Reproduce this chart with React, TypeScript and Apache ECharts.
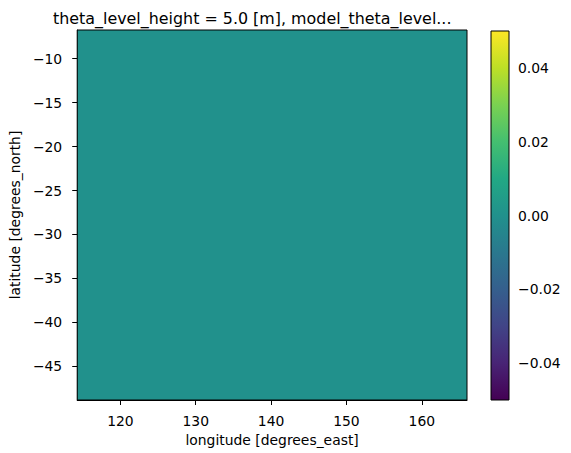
import React, { useEffect, useRef } from "react";
import * as echarts from "echarts";

// ---- data ----
const titleText = "theta_level_height = 5.0 [m], model_theta_level...";
const xName = "longitude [degrees_east]";
const yName = "latitude [degrees_north]";
// cell edges of the (uniform) field and its values
const lonEdges = [114.27, 166.0];
const latEdges = [-48.83, -6.74];
const fieldValues = [[0]]; // rows = lat cells, cols = lon cells
const xTicks = [120, 130, 140, 150, 160];
const yTicks = [-45, -40, -35, -30, -25, -20, -15, -10];
const cbMin = -0.05;
const cbMax = 0.05;
const cbTicks = [-0.04, -0.02, 0.0, 0.02, 0.04];
const viridis = [
  "#440154", "#482475", "#414487", "#355f8d", "#2a788e", "#21918c",
  "#22a884", "#44bf70", "#7ad151", "#bddf26", "#fde725",
];

const FONT = "DejaVu Sans";
const minus = (s: string) => s.replace(/-/g, "\u2212");

function hexToRgb(h: string) {
  const n = parseInt(h.slice(1), 16);
  return [(n >> 16) & 255, (n >> 8) & 255, n & 255];
}
function colorFor(v: number) {
  let t = (v - cbMin) / (cbMax - cbMin);
  t = Math.max(0, Math.min(1, t));
  const p = t * (viridis.length - 1);
  const i = Math.min(viridis.length - 2, Math.floor(p));
  const f = p - i;
  const a = hexToRgb(viridis[i]);
  const b = hexToRgb(viridis[i + 1]);
  const c = a.map((x, k) => Math.round(x + (b[k] - x) * f));
  return `rgb(${c[0]},${c[1]},${c[2]})`;
}

export default function App() {
  const ref = useRef<HTMLDivElement>(null);
  useEffect(() => {
    if (!ref.current) return;
    const chart = echarts.init(ref.current, undefined, { renderer: "svg" });

    const cells: number[][] = [];
    for (let r = 0; r < latEdges.length - 1; r++) {
      for (let c = 0; c < lonEdges.length - 1; c++) {
        cells.push([lonEdges[c], lonEdges[c + 1], latEdges[r], latEdges[r + 1], fieldValues[r][c]]);
      }
    }

    const tickText = { fontFamily: FONT, fontSize: 13.9, color: "#000" };

    chart.setOption({
      animation: false,
      title: {
        text: titleText,
        left: 53,
        top: 10,
        padding: 0,
        textStyle: { fontFamily: FONT, fontSize: 15.9, fontWeight: "normal", color: "#000" },
      },
      grid: [
        { left: 69, top: 30, width: 398, height: 370 },
        { left: 491, top: 31, width: 18, height: 369 },
      ],
      xAxis: [
        {
          gridIndex: 0,
          type: "value",
          min: lonEdges[0],
          max: lonEdges[lonEdges.length - 1],
          name: xName,
          nameLocation: "middle",
          nameGap: 26,
          nameTextStyle: { fontFamily: FONT, fontSize: 13.9, color: "#000" },
          axisLine: { show: true, lineStyle: { color: "#000", width: 1 } },
          axisTick: { show: true, length: 5, inside: false, customValues: xTicks, lineStyle: { color: "#000" } },
          axisLabel: { ...tickText, margin: 14, customValues: xTicks, formatter: (v: number) => minus(String(v)) },
          splitLine: { show: false },
        },
        {
          gridIndex: 1,
          type: "value",
          min: 0,
          max: 1,
          show: false,
        },
      ],
      yAxis: [
        {
          gridIndex: 0,
          type: "value",
          min: latEdges[0],
          max: latEdges[latEdges.length - 1],
          name: yName,
          nameLocation: "middle",
          nameGap: 47,
          nameTextStyle: { fontFamily: FONT, fontSize: 13.9, color: "#000" },
          axisLine: { show: true, lineStyle: { color: "#000", width: 1 } },
          axisTick: { show: true, length: 5, inside: false, customValues: yTicks, lineStyle: { color: "#000" } },
          axisLabel: { ...tickText, margin: 15, customValues: yTicks, formatter: (v: number) => minus(String(v)) },
          splitLine: { show: false },
        },
        {
          gridIndex: 1,
          type: "value",
          position: "right",
          min: cbMin,
          max: cbMax,
          axisLine: { show: false },
          axisTick: { show: true, length: 5, inside: false, customValues: cbTicks, lineStyle: { color: "#000" } },
          axisLabel: { ...tickText, margin: 9, customValues: cbTicks, formatter: (v: number) => minus(v.toFixed(2)) },
          splitLine: { show: false },
        },
      ],
      series: [
        {
          type: "custom",
          xAxisIndex: 0,
          yAxisIndex: 0,
          data: cells,
          clip: true,
          renderItem: (params: any, api: any) => {
            const p0 = api.coord([api.value(0), api.value(3)]);
            const p1 = api.coord([api.value(1), api.value(2)]);
            return {
              type: "rect",
              shape: { x: p0[0], y: p0[1], width: p1[0] - p0[0], height: p1[1] - p0[1] },
              style: { fill: colorFor(api.value(4)), stroke: null },
            };
          },
        },
        {
          // frame around the field
          type: "custom",
          xAxisIndex: 0,
          yAxisIndex: 0,
          data: [[lonEdges[0], lonEdges[lonEdges.length - 1], latEdges[0], latEdges[latEdges.length - 1]]],
          silent: true,
          z: 5,
          renderItem: (params: any, api: any) => {
            const p0 = api.coord([api.value(0), api.value(3)]);
            const p1 = api.coord([api.value(1), api.value(2)]);
            return {
              type: "rect",
              shape: { x: p0[0], y: p0[1], width: p1[0] - p0[0], height: p1[1] - p0[1] },
              style: { fill: "none", stroke: "#000", lineWidth: 1 },
            };
          },
        },
        {
          // colorbar
          type: "custom",
          xAxisIndex: 1,
          yAxisIndex: 1,
          data: [[0, cbMin, 1, cbMax]],
          silent: true,
          renderItem: (params: any, api: any) => {
            const p0 = api.coord([api.value(0), api.value(3)]);
            const p1 = api.coord([api.value(2), api.value(1)]);
            const stops = viridis
              .map((c, i) => ({ offset: 1 - i / (viridis.length - 1), color: c }))
              .reverse();
            return {
              type: "rect",
              shape: { x: p0[0], y: p0[1], width: p1[0] - p0[0], height: p1[1] - p0[1] },
              style: {
                fill: new echarts.graphic.LinearGradient(0, 0, 0, 1, stops),
                stroke: "#000",
                lineWidth: 1,
              },
            };
          },
        },
      ],
    });
    return () => chart.dispose();
  }, []);
  return (
    <div
      ref={ref}
      style={{ position: "absolute", left: 0, top: 0, width: 571, height: 453, background: "#fff" }}
    />
  );
}
